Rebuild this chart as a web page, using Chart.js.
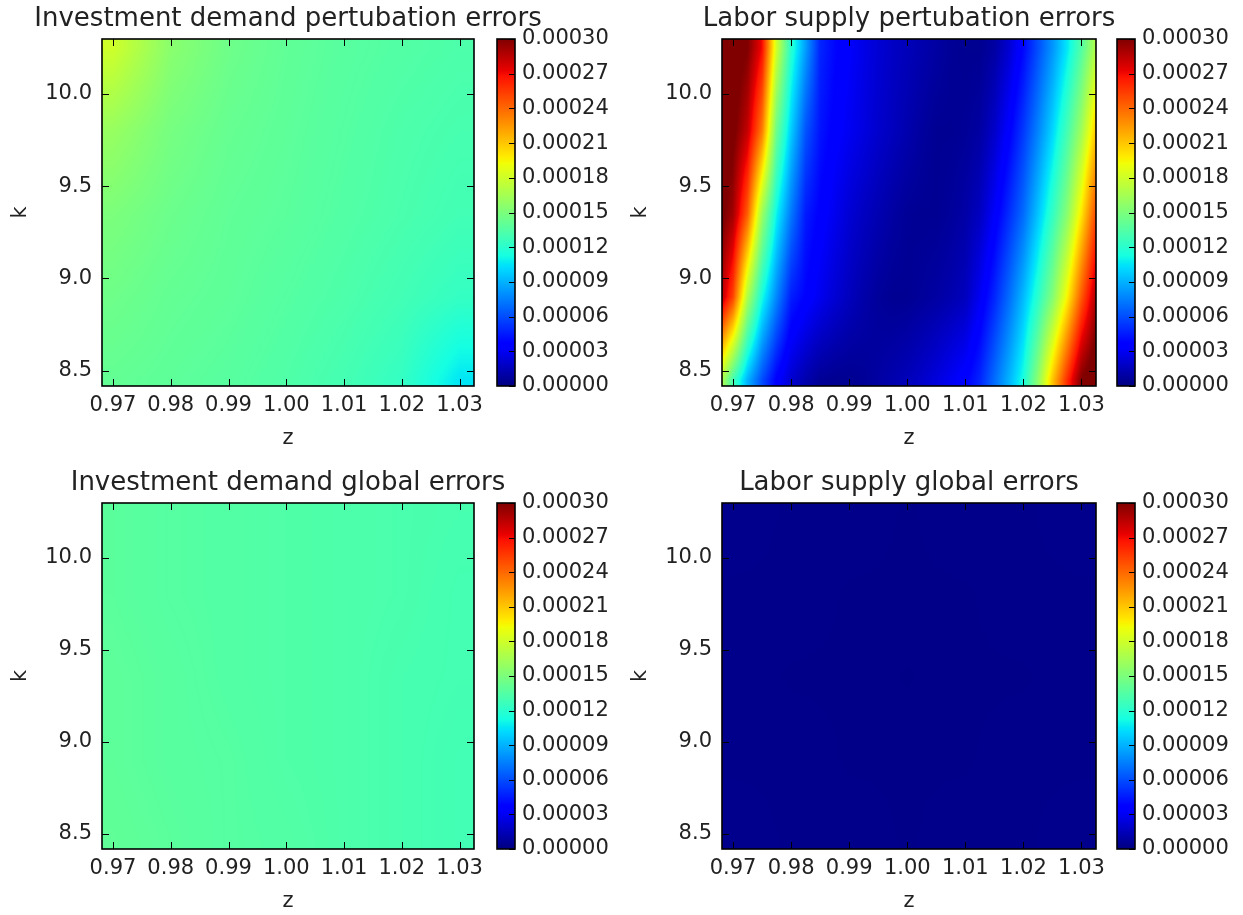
<!DOCTYPE html>
<html>
<head>
<meta charset="utf-8">
<script src="https://cdn.jsdelivr.net/npm/chart.js@4.4.1/dist/chart.umd.min.js"></script>
<style>
    html, body { margin: 0; padding: 0; background: #fff; overflow: hidden; }
    #page { position: relative; width: 1243px; height: 915px; overflow: hidden; background: #fff; }
    #page canvas { position: absolute; }
</style>
</head>
<body>
<div id="page"></div>
<script>
// Axis ticks and limits
const zTicks = [0.97, 0.98, 0.99, 1.00, 1.01, 1.02, 1.03];
const kTicks = [8.5, 9.0, 9.5, 10.0];
const colorbarTicks = [0, 0.00003, 0.00006, 0.00009, 0.00012, 0.00015, 0.00018, 0.00021, 0.00024, 0.00027, 0.00030];
const zLimits = [0.9681, 1.0325];
const kLimits = [8.417, 10.298];

// Grid the errors were read on (rows top -> bottom)
const kRows = [10.25, 9.8, 9.35, 8.9, 8.45];
const zCoarse = [0.97, 0.98, 0.99, 1.00, 1.01, 1.02, 1.03];
const zFine = [0.9675, 0.97, 0.9725, 0.975, 0.9775, 0.98, 0.9825, 0.985, 0.9875, 0.99, 0.9925,
    0.995, 0.9975, 1.0, 1.0025, 1.005, 1.0075, 1.01, 1.0125, 1.015, 1.0175, 1.02, 1.0225,
    1.025, 1.0275, 1.03, 1.0325];

// Errors, in units of 1e-5
const ERR_UNIT = 1e-5;
const investPert = [
    [18.0, 15.5, 14.5, 14.0, 13.7, 13.5, 13.3],
    [16.0, 14.8, 14.2, 13.9, 13.6, 13.3, 13.1],
    [15.0, 14.4, 14.0, 13.8, 13.5, 13.2, 12.9],
    [14.5, 14.1, 13.9, 13.6, 13.3, 12.9, 12.4],
    [14.1, 13.9, 13.7, 13.4, 13.0, 12.4, 10.5]
];
const laborPert = [
    [32, 31, 30, 27, 18, 12, 8.4, 4.8, 3.9, 3.3, 2.7, 2.2, 1.8, 1.5, 1.2, 0.9, 0.6, 0.45, 0.45, 0.9, 2.1, 3.9, 6, 8.1, 10.5, 13.5, 17],
    [31.4, 30.4, 28.2, 23.4, 14.4, 9.8, 6.2, 4.3, 3.5, 3.0, 2.5, 2.0, 1.6, 1.2, 0.8, 0.5, 0.5, 0.6, 0.9, 1.9, 3.5, 5.4, 7.6, 10, 12.9, 16.3, 21],
    [30.7, 29.1, 24.3, 16.2, 10.9, 7.3, 4.5, 3.6, 2.9, 2.2, 1.7, 1.3, 0.9, 0.6, 0.5, 0.5, 0.7, 1.0, 1.7, 3.2, 5.0, 6.9, 9.5, 12.3, 15.4, 20, 25],
    [29.4, 25.2, 16.8, 11.3, 7.7, 4.6, 3.7, 2.9, 2.2, 1.6, 1.1, 0.7, 0.5, 0.5, 0.7, 0.9, 1.2, 1.6, 3.0, 4.8, 6.9, 9.2, 12, 15.2, 19.5, 24.5, 28.8],
    [18, 13, 9, 6, 3.6, 2.1, 1.2, 0.6, 0.45, 0.45, 0.6, 0.9, 1.2, 1.5, 1.9, 2.4, 3, 3.6, 4.8, 6.9, 9, 11.4, 15.6, 21, 25.8, 30, 31.5]
];
const investGlobal = [
    [13.8, 13.6, 13.5, 13.4, 13.3, 13.2, 13.1],
    [13.8, 13.6, 13.5, 13.4, 13.3, 13.2, 13.0],
    [13.9, 13.7, 13.5, 13.4, 13.3, 13.1, 13.0],
    [13.9, 13.7, 13.6, 13.4, 13.3, 13.1, 12.9],
    [14.0, 13.8, 13.6, 13.5, 13.3, 13.1, 12.9]
];
const laborGlobal = [
    [0.35, 0.3, 0.3, 0.25, 0.3, 0.3, 0.35],
    [0.3, 0.3, 0.25, 0.25, 0.25, 0.3, 0.3],
    [0.3, 0.25, 0.25, 0.2, 0.25, 0.25, 0.3],
    [0.3, 0.3, 0.25, 0.25, 0.25, 0.3, 0.3],
    [0.35, 0.3, 0.3, 0.25, 0.3, 0.3, 0.35]
];

const panels = [
    { title: 'Investment demand pertubation errors', z: zCoarse, values: investPert },
    { title: 'Labor supply pertubation errors', z: zFine, values: laborPert },
    { title: 'Investment demand global errors', z: zCoarse, values: investGlobal },
    { title: 'Labor supply global errors', z: zCoarse, values: laborGlobal }
];

// Plot boxes on the page
const boxes = [
    { left: 102, right: 474, top: 39, bottom: 386, cbLeft: 497, cbRight: 515 },
    { left: 722, right: 1096, top: 39, bottom: 386, cbLeft: 1117, cbRight: 1135 },
    { left: 102, right: 474, top: 503, bottom: 849, cbLeft: 497, cbRight: 515 },
    { left: 722, right: 1096, top: 503, bottom: 849, cbLeft: 1117, cbRight: 1135 }
];

const TICK_FONT = 21;
const TITLE_FONT = 26;
const AXIS_W = 102;
const TITLE_H = 39;
const X_AXIS_H = 70;
const CB_AXIS_W = 110;
const CB_GAP = 7;
const CB_BOTTOM = 14;

Chart.defaults.font.family = "'DejaVu Sans', sans-serif";
Chart.defaults.color = '#222';
Chart.defaults.animation = false;

// matplotlib jet colormap
const JET = {
    r: [[0, 0], [0.35, 0], [0.66, 1], [0.89, 1], [1, 0.5]],
    g: [[0, 0], [0.125, 0], [0.375, 1], [0.64, 1], [0.91, 0], [1, 0]],
    b: [[0, 0.5], [0.11, 1], [0.34, 1], [0.65, 0], [1, 0]]
};
const JET_STOPS = [0, 0.11, 0.125, 0.34, 0.35, 0.375, 0.64, 0.65, 0.66, 0.89, 0.91, 1];

function channel(pts, t) {
    for (let i = 0; i < pts.length - 1; i++) {
        const [x0, y0] = pts[i];
        const [x1, y1] = pts[i + 1];
        if (t <= x1) return y0 + (y1 - y0) * (t - x0) / (x1 - x0);
    }
    return pts[pts.length - 1][1];
}

function jet(t) {
    t = Math.min(1, Math.max(0, t));
    return [channel(JET.r, t), channel(JET.g, t), channel(JET.b, t)].map(c => Math.round(c * 255));
}

function bracket(grid, v) {
    const n = grid.length;
    const asc = grid[n - 1] > grid[0];
    if (asc ? v <= grid[0] : v >= grid[0]) return [0, 0, 0];
    if (asc ? v >= grid[n - 1] : v <= grid[n - 1]) return [n - 1, n - 1, 0];
    for (let i = 0; i < n - 1; i++) {
        const a = grid[i], b = grid[i + 1];
        if ((v - a) * (v - b) <= 0) return [i, i + 1, (v - a) / (b - a)];
    }
    return [n - 1, n - 1, 0];
}

const vMax = colorbarTicks[colorbarTicks.length - 1];

// Paints the error surface pixel by pixel, using the chart's own scales
const heatmapPlugin = {
    id: 'heatmap',
    beforeDatasetsDraw(chart, args, opts) {
        const { ctx, chartArea: area, scales: { x, y } } = chart;
        const w = Math.round(area.right - area.left);
        const h = Math.round(area.bottom - area.top);
        const off = document.createElement('canvas');
        off.width = w;
        off.height = h;
        const octx = off.getContext('2d');
        const img = octx.createImageData(w, h);
        const V = opts.values;
        const cols = [];
        for (let px = 0; px < w; px++) {
            cols.push(bracket(opts.z, x.getValueForPixel(area.left + px + 0.5)));
        }
        for (let py = 0; py < h; py++) {
            const [r0, r1, fy] = bracket(opts.k, y.getValueForPixel(area.top + py + 0.5));
            for (let px = 0; px < w; px++) {
                const [c0, c1, fx] = cols[px];
                const v = (1 - fy) * ((1 - fx) * V[r0][c0] + fx * V[r0][c1]) +
                    fy * ((1 - fx) * V[r1][c0] + fx * V[r1][c1]);
                const [r, g, b] = jet(v * ERR_UNIT / vMax);
                const i = (py * w + px) * 4;
                img.data[i] = r;
                img.data[i + 1] = g;
                img.data[i + 2] = b;
                img.data[i + 3] = 255;
            }
        }
        octx.putImageData(img, 0, 0);
        ctx.drawImage(off, area.left, area.top);
    }
};

// Black frame with inward ticks on all four sides
const framePlugin = {
    id: 'frame',
    afterDraw(chart) {
        const { ctx, chartArea: a, scales: { x, y } } = chart;
        ctx.save();
        ctx.strokeStyle = '#000';
        ctx.lineWidth = 1;
        ctx.beginPath();
        x.ticks.forEach(t => {
            const px = Math.round(x.getPixelForValue(t.value)) + 0.5;
            ctx.moveTo(px, a.bottom); ctx.lineTo(px, a.bottom - 7);
            ctx.moveTo(px, a.top); ctx.lineTo(px, a.top + 7);
        });
        y.ticks.forEach(t => {
            const py = Math.round(y.getPixelForValue(t.value)) + 0.5;
            ctx.moveTo(a.left, py); ctx.lineTo(a.left + 7, py);
            ctx.moveTo(a.right, py); ctx.lineTo(a.right - 7, py);
        });
        ctx.stroke();
        ctx.lineWidth = 1.6;
        ctx.strokeRect(a.left, a.top, a.right - a.left, a.bottom - a.top);
        ctx.restore();
    }
};

const colorbarFramePlugin = {
    id: 'colorbarFrame',
    afterDraw(chart) {
        const { ctx, chartArea: a, scales: { y } } = chart;
        ctx.save();
        ctx.strokeStyle = '#000';
        ctx.lineWidth = 1;
        ctx.beginPath();
        y.ticks.forEach(t => {
            const py = Math.round(y.getPixelForValue(t.value)) + 0.5;
            ctx.moveTo(a.right, py); ctx.lineTo(a.right - 6, py);
        });
        ctx.stroke();
        ctx.lineWidth = 1.6;
        ctx.strokeRect(a.left, a.top, a.right - a.left, a.bottom - a.top);
        ctx.restore();
    }
};

function jetGradient(ctx, area) {
    const g = ctx.createLinearGradient(0, area.bottom, 0, area.top);
    JET_STOPS.forEach(s => {
        const [r, gg, b] = jet(s);
        g.addColorStop(s, `rgb(${r},${gg},${b})`);
    });
    return g;
}

function makeCanvas(left, top, width, height) {
    const c = document.createElement('canvas');
    c.width = width;
    c.height = height;
    c.style.left = left + 'px';
    c.style.top = top + 'px';
    c.style.width = width + 'px';
    c.style.height = height + 'px';
    document.getElementById('page').appendChild(c);
    return c;
}

function tickFont() {
    return { size: TICK_FONT };
}

function drawPanel(panel, box) {
    // canvas is symmetric about the plot box so the title sits centred over it
    const x0 = box.left - AXIS_W;
    const y0 = box.top - TITLE_H;
    const canvas = makeCanvas(x0, y0, box.right - x0 + AXIS_W, box.bottom - y0 + X_AXIS_H);

    const points = [];
    kRows.forEach((k, r) => panel.z.forEach((z, c) => points.push({ x: z, y: k, v: panel.values[r][c] })));

    new Chart(canvas, {
        type: 'scatter',
        data: { datasets: [{ data: points, pointRadius: 0, pointHoverRadius: 0 }] },
        options: {
            responsive: false,
            devicePixelRatio: 1,
            events: [],
            plugins: {
                legend: { display: false },
                tooltip: { enabled: false },
                title: {
                    display: true,
                    text: panel.title,
                    font: { size: TITLE_FONT, weight: 'normal' },
                    padding: { top: 4, bottom: 3.8 }
                },
                heatmap: { z: panel.z, k: kRows, values: panel.values }
            },
            scales: {
                x: {
                    type: 'linear',
                    min: zLimits[0],
                    max: zLimits[1],
                    grid: { display: false, drawTicks: false },
                    border: { display: false },
                    afterBuildTicks: s => { s.ticks = zTicks.map(v => ({ value: v })); },
                    afterFit: s => { s.height = X_AXIS_H; s.paddingLeft = 0; s.paddingRight = 0; },
                    ticks: {
                        font: tickFont(),
                        padding: 7,
                        maxRotation: 0,
                        minRotation: 0,
                        autoSkip: false,
                        callback: v => v.toFixed(2)
                    },
                    title: { display: true, text: 'z', font: tickFont(), padding: { top: 0, bottom: 5 } }
                },
                y: {
                    type: 'linear',
                    min: kLimits[0],
                    max: kLimits[1],
                    grid: { display: false, drawTicks: false },
                    border: { display: false },
                    afterBuildTicks: s => { s.ticks = kTicks.map(v => ({ value: v })); },
                    afterFit: s => { s.width = AXIS_W; s.paddingTop = 0; s.paddingBottom = 0; },
                    ticks: {
                        font: tickFont(),
                        padding: 10,
                        autoSkip: false,
                        callback: v => v.toFixed(1)
                    },
                    title: { display: true, text: 'k', font: tickFont(), padding: { top: 8, bottom: 0 } }
                },
                // empty right-hand box, same width as the k axis
                yRight: {
                    type: 'linear',
                    position: 'right',
                    min: kLimits[0],
                    max: kLimits[1],
                    grid: { display: false, drawTicks: false },
                    border: { display: false },
                    ticks: { display: false },
                    afterFit: s => { s.width = AXIS_W; s.paddingTop = 0; s.paddingBottom = 0; }
                }
            }
        },
        plugins: [heatmapPlugin, framePlugin]
    });

    // colour bar
    const cx0 = box.cbLeft - CB_GAP;
    const cbCanvas = makeCanvas(cx0, y0, box.cbRight - cx0 + CB_AXIS_W, box.bottom - y0 + CB_BOTTOM);
    new Chart(cbCanvas, {
        type: 'bar',
        data: {
            labels: [''],
            datasets: [{
                data: [[colorbarTicks[0], vMax]],
                backgroundColor: c => {
                    const area = c.chart.chartArea;
                    if (!area) return '#00007f';
                    return jetGradient(c.chart.ctx, area);
                },
                borderWidth: 0,
                barPercentage: 1,
                categoryPercentage: 1
            }]
        },
        options: {
            responsive: false,
            devicePixelRatio: 1,
            events: [],
            layout: { padding: { left: CB_GAP, top: TITLE_H, bottom: CB_BOTTOM } },
            plugins: {
                legend: { display: false },
                tooltip: { enabled: false }
            },
            scales: {
                x: { display: false },
                y: {
                    position: 'right',
                    min: colorbarTicks[0],
                    max: vMax,
                    grid: { display: false, drawTicks: false },
                    border: { display: false },
                    afterBuildTicks: s => { s.ticks = colorbarTicks.map(v => ({ value: v })); },
                    afterFit: s => { s.width = CB_AXIS_W; s.paddingTop = 0; s.paddingBottom = 0; },
                    ticks: {
                        font: tickFont(),
                        padding: 7,
                        autoSkip: false,
                        callback: v => v.toFixed(5)
                    }
                }
            }
        },
        plugins: [colorbarFramePlugin]
    });
}

panels.forEach((p, i) => drawPanel(p, boxes[i]));
</script>
</body>
</html>
